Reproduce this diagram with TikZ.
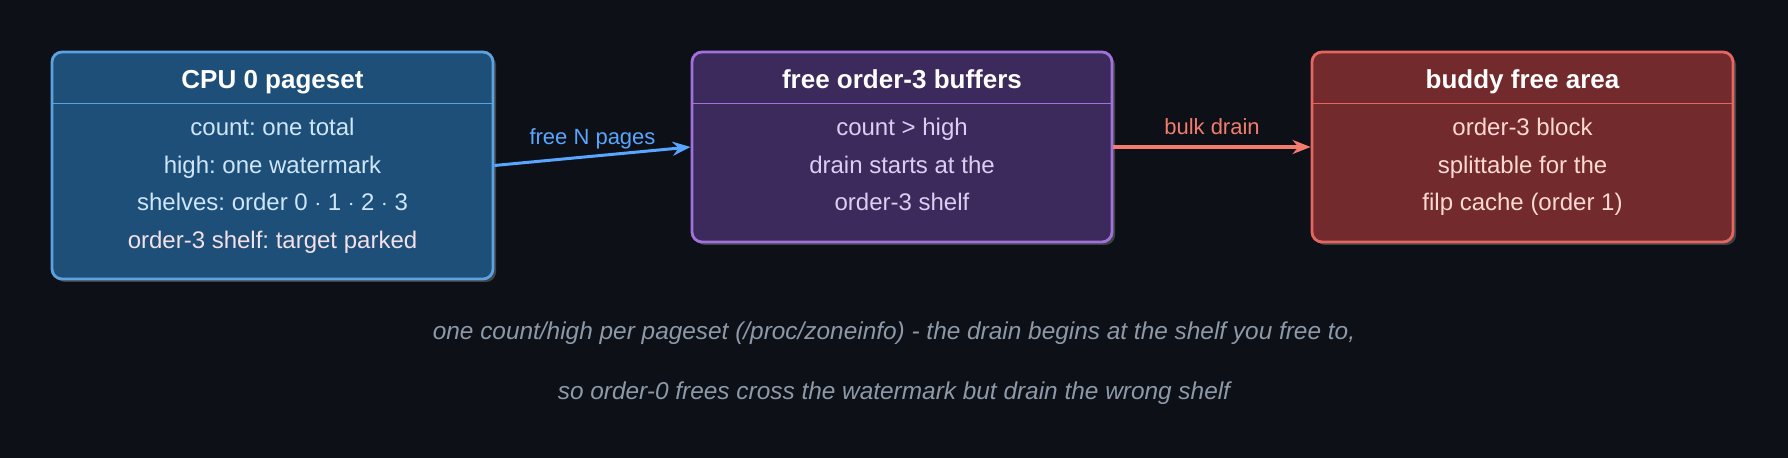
\documentclass[tikz,border=0pt]{standalone}
\usepackage{fontspec}
\setmainfont{Liberation Sans}
\usepackage{xcolor}
\usetikzlibrary{arrows.meta,shadows}
\frenchspacing

\begin{document}
\begin{tikzpicture}[x=0.5pt,y=-0.5pt,
  blockbox/.style={rectangle,rounded corners=5pt,line width=1.4pt,
    drop shadow={opacity=0.45,shadow xshift=1.5pt,shadow yshift=-1.5pt}},
  titletext/.style={font=\fontsize{13}{15}\bfseries\selectfont,text=white,inner sep=0pt,anchor=base},
  bodyline/.style={font=\fontsize{12}{15}\selectfont,inner sep=0pt,anchor=base},
  divider/.style={line width=0.7pt},
  flow/.style={-{Stealth[length=9pt,width=7pt]}},
  flowlabel/.style={font=\fontsize{11}{13}\selectfont,inner sep=1pt,text height=8pt,text depth=2.3pt,above=1.7pt}]
\definecolor{bg}{HTML}{0D1117}
\definecolor{pagesetfill}{HTML}{1E4F79}
\definecolor{pagesetedge}{HTML}{5BA3E0}
\definecolor{pagesetbody}{HTML}{CDE6FA}
\definecolor{parkedtext}{HTML}{F3E0E8}
\definecolor{buffersfill}{HTML}{3C2A5C}
\definecolor{buffersedge}{HTML}{A172DB}
\definecolor{buffersbody}{HTML}{DCCDF2}
\definecolor{buddyfill}{HTML}{722A2C}
\definecolor{buddyedge}{HTML}{E5655F}
\definecolor{buddybody}{HTML}{FFD9D4}
\definecolor{freearrow}{HTML}{58A6FF}
\definecolor{drainarrow}{HTML}{F47C6E}
\definecolor{captiontext}{HTML}{8D99A8}
\fill[bg] (0,0) rectangle (1788,458);
\useasboundingbox (0,0) rectangle (1788,458);

\node [blockbox,draw=pagesetedge,fill=pagesetfill,minimum width=220.5pt,minimum height=113.5pt] (pageset) at (272.5,165.5) {};
\node [blockbox,draw=buffersedge,fill=buffersfill,minimum width=210pt,minimum height=95pt] (buffers) at (902,147) {};
\node [blockbox,draw=buddyedge,fill=buddyfill,minimum width=210.5pt,minimum height=95pt] (buddy) at (1522.5,147) {};

  \foreach \blk/\edge in {pageset/pagesetedge,buffers/buffersedge,buddy/buddyedge}
  {  \draw [divider,\edge] (\blk.west |- 0,103.5) -- (\blk.east |- 0,103.5);}

\node [titletext] (pagesettitle) at (272.5,88.5) {CPU 0 pageset};
\node [titletext] (bufferstitle) at (902,88.5) {free order-3 buffers};
\node [titletext] (buddytitle) at (1522.5,88.5) {buddy free area};

  \foreach \txt/\crlr [count=\row] in {{count: one total}/pagesetbody,{high: one watermark}/pagesetbody,{shelves: order 0 $\cdot$ 1 $\cdot$ 2 $\cdot$ 3}/pagesetbody,{order-3 shelf: target parked}/parkedtext}
  {  \node [bodyline,text=\crlr] (pagesetline\row) at (272.5,{135.5+37.7*(\row-1)}) {\txt};}
  \foreach \txt [count=\row] in {{count > high},{drain starts at the},{order-3 shelf}}
  {  \node [bodyline,text=buffersbody] (buffersline\row) at (902,{135.5+37.7*(\row-1)}) {\txt};}
  \foreach \txt [count=\row] in {{order-3 block},{splittable for the},{filp cache (order 1)}}
  {  \node [bodyline,text=buddybody] (buddyline\row) at (1522.5,{135.5+37.7*(\row-1)}) {\txt};}

\draw [flow,freearrow,line width=1.5pt] (pageset.east) -- node [flowlabel,text=freearrow] {free N pages} (buffers.west);
\draw [flow,drainarrow,line width=2pt] (buffers.east) -- node [flowlabel,text=drainarrow] {bulk drain} (buddy.west);

\node [font=\fontsize{12.2}{14}\itshape\selectfont,text=captiontext,anchor=base] (captionone) at (894,339.5) {one count/high per pageset (/proc/zoneinfo) - the drain begins at the shelf you free to,};
\node [font=\fontsize{12.2}{14}\itshape\selectfont,text=captiontext,anchor=base] (captiontwo) at (894,399.5) {so order-0 frees cross the watermark but drain the wrong shelf};
\end{tikzpicture}
\end{document}
